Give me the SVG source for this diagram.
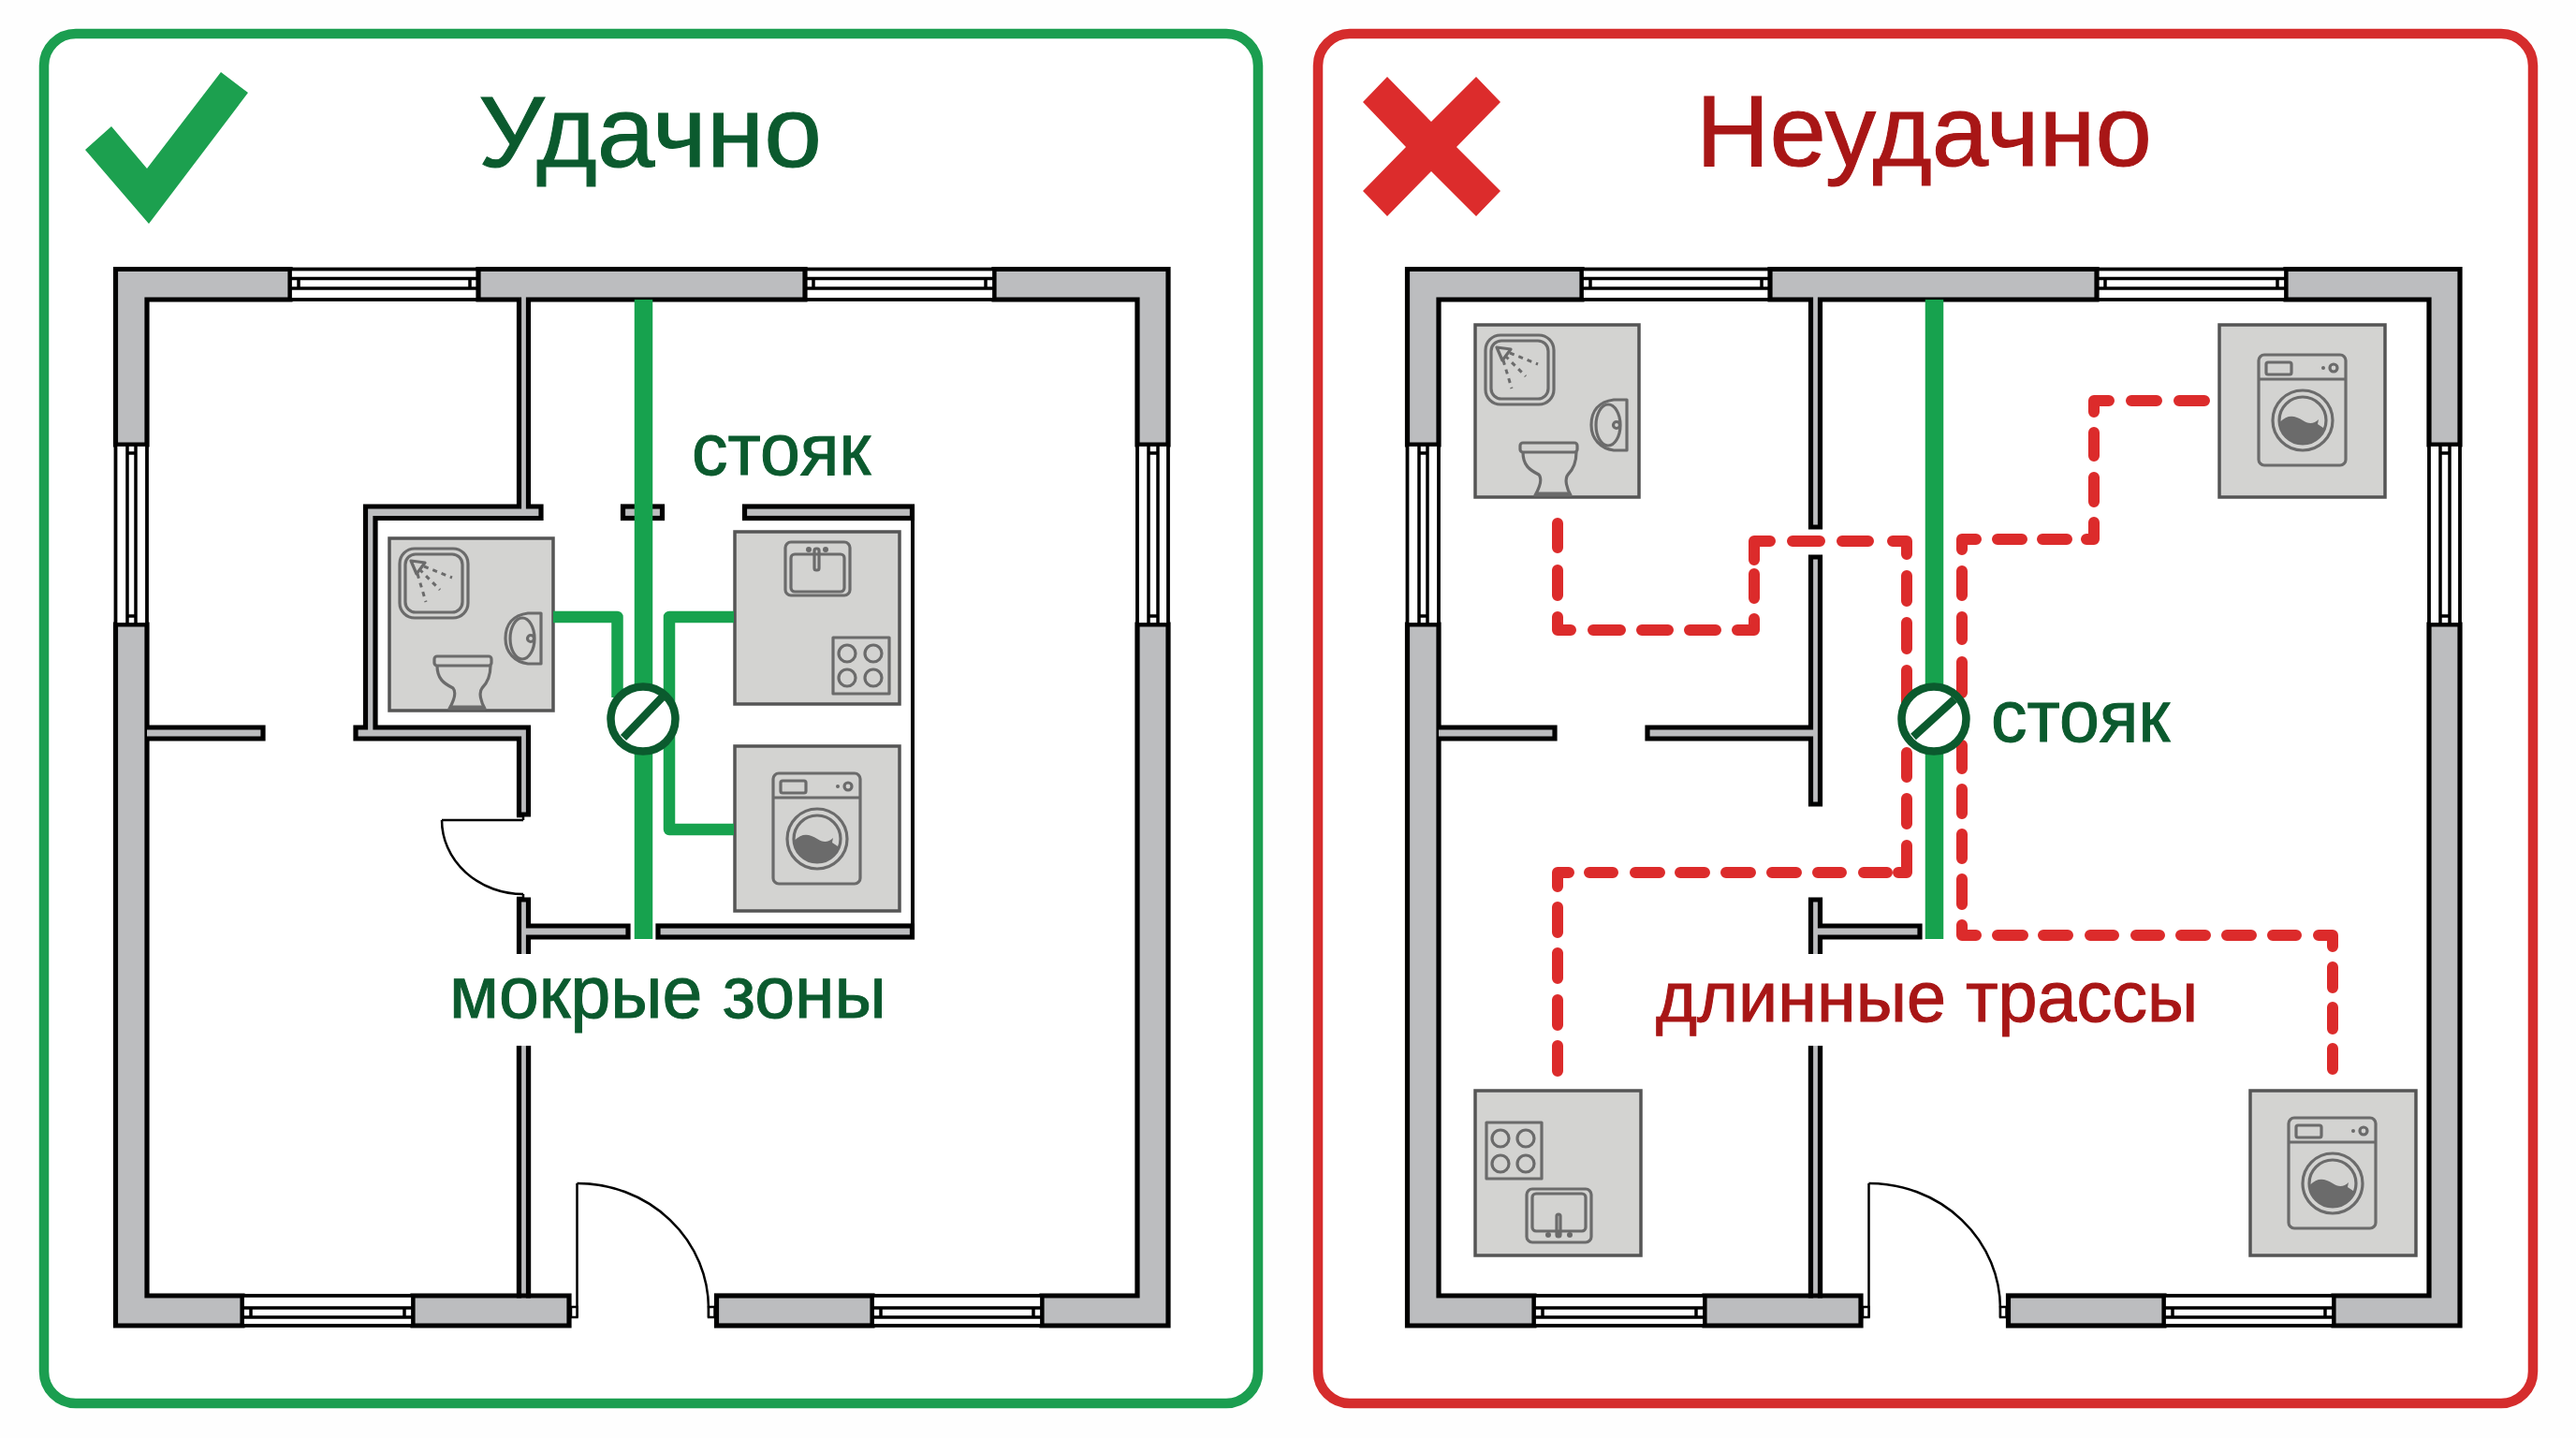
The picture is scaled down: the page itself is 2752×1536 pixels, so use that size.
<svg xmlns="http://www.w3.org/2000/svg" xmlns:xlink="http://www.w3.org/1999/xlink" width="2752" height="1536" viewBox="0 0 2752 1536">
<style>
text{font-family:"Liberation Sans",Arial,sans-serif;stroke-width:1;paint-order:stroke}
.wall{fill:#bcbdbf;stroke:#000;stroke-width:5.2;stroke-linejoin:miter}
.win{fill:#fff;stroke:#000;stroke-width:3.8}
.winl{fill:none;stroke:#000;stroke-width:3.5}
.door{fill:none;stroke:#000;stroke-width:2.5}
.jamb{fill:#fff;stroke:#000;stroke-width:2.5}
.block{fill:#d3d3d1;stroke:#555;stroke-width:3.5}
.ico{fill:none;stroke:#6b6b6b;stroke-width:3.2;stroke-linejoin:round}
.dot{fill:none;stroke:#6b6b6b;stroke-width:3;stroke-dasharray:5 5}
.icf{fill:#6b6b6b}
.pipe{fill:none;stroke:#17a24e;stroke-linejoin:round}
.red{fill:none;stroke:#dc2b2b;stroke-width:12;stroke-linecap:round;stroke-linejoin:round}
.riser{fill:#fff;stroke:#0b5a2e;stroke-width:8.5}
.rs{stroke:#0b5a2e;stroke-width:8.5}
.g{fill:#0b5a2e;stroke:#0b5a2e}
.r{fill:#a81616;stroke:#a81616}
</style>
<defs>
<g id="bath">
<rect class="block" x="0" y="0" width="175" height="184"/>
<rect class="ico" x="11" y="11" width="73" height="74" rx="16"/>
<rect class="ico" x="17" y="17" width="61" height="62" rx="11"/>
<path class="ico" d="M23,24 L38,26 L29,38 Z" stroke-width="4"/>
<path class="dot" d="M37,30 L67,42 M32,33 L54,55 M30,38 L39,68"/>
<path class="ico" d="M162,80 H148 C132,82 124,92 124,107 C124,122 134,132 148,134 H162 Z"/>
<ellipse class="ico" cx="142" cy="107" rx="13" ry="22"/>
<circle class="ico" cx="151" cy="107" r="3.5"/>
<rect class="ico" x="48" y="126" width="61" height="10" rx="3"/>
<path class="ico" d="M51,136 C51,150 58,155 68,160 C72,165 68,175 64,182 H102 C98,175 95,165 99,160 C104,155 108,148 108,136"/>
<path class="ico" d="M65,180 H101" stroke-width="4"/>
</g>
<g id="washer">
<rect class="ico" x="-47" y="-70" width="93" height="118" rx="6"/>
<path class="ico" d="M-47,-44 H46"/>
<rect class="ico" x="-39" y="-62" width="27" height="13" rx="2"/>
<circle class="icf" cx="22" cy="-56" r="2"/>
<circle class="ico" cx="33" cy="-56" r="4"/>
<circle class="ico" cx="0" cy="0" r="32"/>
<circle class="ico" cx="0" cy="0" r="25"/>
<path class="icf" d="M-24.500,2 C-16,-7 -8,-5 0,0 C6,4 12,4 17,-1 L16,4 L23.500,9 A25,25 0 0 1 -24.500,2 Z"/>
</g>
<g id="shell">
<path class="wall" d="M310,287.500 H123.500 V475 H157 V320 H310 Z"/>
<path class="wall" d="M1062,287.500 H1248 V475 H1215 V320 H1062 Z"/>
<path class="wall" d="M123.500,667 V1416 H259 V1384 H157 V667 Z"/>
<path class="wall" d="M1113,1384 H1215 V667 H1248 V1416 H1113 Z"/>
<path class="wall" d="M564.500,1117 V1384 H608 V1416 H441 V1384 H554.500 V1117"/>
<rect class="wall" x="765.500" y="1384" width="166.500" height="32"/>
<g id="windows">
<rect class="win" x="310" y="287.500" width="201" height="32.500"/>
<path class="winl" d="M310,297.500 H511 M310,308 H511 M319,297.500 V308 M502,297.500 V308"/>
<rect class="win" x="860" y="287.500" width="202" height="32.500"/>
<path class="winl" d="M860,297.500 H1062 M860,308 H1062 M869,297.500 V308 M1053,297.500 V308"/>
<rect class="win" x="259" y="1384" width="182" height="32"/>
<path class="winl" d="M259,1397 H441 M259,1407 H441 M268,1397 V1407 M432,1397 V1407"/>
<rect class="win" x="932" y="1384" width="181" height="32"/>
<path class="winl" d="M932,1397 H1113 M932,1407 H1113 M941,1397 V1407 M1104,1397 V1407"/>
<rect class="win" x="123.500" y="475" width="33.500" height="192"/>
<path class="winl" d="M136,475 V667 M145,475 V667 M136,484 H145 M136,658 H145"/>
<rect class="win" x="1215" y="475" width="33" height="192"/>
<path class="winl" d="M1227,475 V667 M1237,475 V667 M1227,484 H1237 M1227,658 H1237"/>
</g>
<path class="wall" d="M157,777 H281 V789 H157"/>
<path class="door" d="M616.500,1407 V1264" stroke-width="2"/>
<path class="door" d="M616.500,1264 A140,134 0 0 1 757,1398 V1407" stroke-width="3.500"/>
<rect class="jamb" x="610" y="1396" width="6.500" height="11"/>
<rect class="jamb" x="757" y="1396" width="6.500" height="11"/>
<path class="wall" d="M554.500,1019 V961 H564.500 V989 H671 V1001 H564.500 V1019"/>
</g>
</defs>

<rect width="2752" height="1536" fill="#fefefe"/>

<g id="panel-good">
<rect x="47" y="36" width="1297" height="1463" rx="34" fill="#fff" stroke="#1b9e50" stroke-width="10.500"/>
<polygon id="check" fill="#1ca04f" points="236,77 265,99 159,239 91,160 119,135 157,180"/>
<text id="title-good" class="g" x="511" y="178" font-size="108" textLength="367" lengthAdjust="spacingAndGlyphs">Удачно</text>
</g>

<g id="panel-bad">
<rect x="1408" y="36" width="1298" height="1463" rx="34" fill="#fff" stroke="#d52c2c" stroke-width="10.500"/>
<polygon id="cross" fill="#dc2c2c" points="1482,82 1529,130 1577,82 1603,109 1556,157 1603,204 1577,231 1529,183 1482,231 1456,204 1502,157 1456,109"/>
<text id="title-bad" class="r" x="1812" y="177" font-size="108" textLength="487" lengthAdjust="spacingAndGlyphs">Неудачно</text>
</g>

<g id="house-good">
<use href="#shell"/>
<path class="wall" d="M511,287.500 H860 V320 H564.500 V541 H578 V553.500 H401 V777 H564.500 V870 H554.500 V789 H380 V777 H390.500 V541 H554.500 V320 H511 Z"/>
<rect class="wall" x="665.500" y="541" width="42" height="12.500"/>
<rect class="wall" x="795.500" y="541" width="179" height="12.500"/>
<rect class="wall" x="703" y="989" width="271.500" height="12"/>
<path d="M975,539 V1003" stroke="#000" stroke-width="4" fill="none"/>
<path class="door" d="M559,876 H472"/>
<path class="door" d="M472,876 A87,79 0 0 0 559,955" stroke-width="3"/>
<path class="door" d="M552,872 H559 V876 M552,959 H559 V955"/>
<path class="wall" d="M564.500,1117 V1384 H554.500 V1117"/>
</g>

<g id="fixture-bath-good" transform="translate(416,575)"><use href="#bath"/></g>
<g id="fixture-kitchen-good" transform="translate(785,568)">
<rect class="block" x="0" y="0" width="176" height="184"/>
<rect class="ico" x="54" y="11" width="69" height="57" rx="6"/>
<rect class="ico" x="60" y="24" width="57" height="40" rx="4"/>
<rect class="ico" x="85" y="18" width="5" height="23" rx="2"/>
<circle class="icf" cx="79" cy="19" r="3"/>
<circle class="icf" cx="97" cy="19" r="3"/>
<rect class="ico" x="105" y="113" width="60" height="60"/>
<circle class="ico" cx="120" cy="130" r="9"/>
<circle class="ico" cx="148" cy="130" r="9"/>
<circle class="ico" cx="120" cy="156" r="9"/>
<circle class="ico" cx="148" cy="156" r="9"/>
</g>
<g id="fixture-washer-good">
<rect class="block" x="785" y="797" width="176" height="176"/>
<use href="#washer" transform="translate(873,896)"/>
</g>

<g id="house-bad">
<use href="#shell" transform="translate(1380,0)"/>
<path class="wall" d="M1891,287.500 H2240 V320 H1944.500 V563 H1934.500 V320 H1891 Z"/>
<path class="wall" d="M1934.500,595 H1944.500 V859 H1934.500 V789 H1760 V777 H1934.500 Z"/>
<path class="wall" d="M1944.500,1117 V1384 H1934.500 V1117"/>
</g>

<g id="fixture-bath-bad" transform="translate(1576,347)"><use href="#bath"/></g>
<g id="fixture-washer-bad-top">
<rect class="block" x="2371" y="347" width="177" height="184"/>
<use href="#washer" transform="translate(2460,449)"/>
</g>
<g id="fixture-kitchen-bad" transform="translate(1576,1165)">
<rect class="block" x="0" y="0" width="177" height="176"/>
<rect class="ico" x="12" y="34" width="59" height="60"/>
<circle class="ico" cx="27" cy="51" r="9"/>
<circle class="ico" cx="54" cy="51" r="9"/>
<circle class="ico" cx="27" cy="78" r="9"/>
<circle class="ico" cx="54" cy="78" r="9"/>
<rect class="ico" x="55" y="105" width="69" height="57" rx="6"/>
<rect class="ico" x="61" y="110" width="57" height="40" rx="4"/>
<rect class="ico" x="87" y="132" width="4" height="24" rx="2"/>
<circle class="icf" cx="78" cy="154" r="3"/>
<circle class="icf" cx="89" cy="154" r="3"/>
<circle class="icf" cx="101" cy="154" r="3"/>
</g>
<g id="fixture-washer-bad-bottom">
<rect class="block" x="2404" y="1165" width="177" height="176"/>
<use href="#washer" transform="translate(2492,1264)"/>
</g>

<g id="connectors">
<path class="pipe" stroke-width="19.500" d="M687.500,320 V1003"/>
<path class="pipe" stroke-width="12.500" d="M591,659 H659.500 V745"/>
<path class="pipe" stroke-width="12.500" d="M784,659 H715 V886 H784"/>
<path class="pipe" stroke-width="19.500" d="M2066.500,320 V1003"/>
<path id="route-a" class="red" d="M1664,559 V585 M1664,609 V636 M1664,659 V673 H1678 M1702,673 H1731 M1754,673 H1782 M1805,673 H1833 M1856,673 H1874 V661 M1874,613 V639 M1874,598 V578 H1891 M1915,578 H1944 M1968,578 H1996 M2022,578 H2037 V592 M2037,615 V642 M2037,665 V693 M2037,716 V750 M2037,804 V830 M2037,853 V880 M2037,903 V932 H2028 M1991,932 H2016 M1942,932 H1967 M1893,932 H1919 M1844,932 H1870 M1795,932 H1821 M1747,932 H1773 M1698,932 H1723 M1676,932 H1664 V947 M1664,969 V996 M1664,1018 V1045 M1664,1068 V1095 M1664,1117 V1144"/>
<path id="route-b" class="red" d="M2355,428 H2328 M2304,428 H2277 M2253,428 H2237 V440 M2237,462 V487 M2237,510 V536 M2237,558 V576 H2229 M2208,576 H2182 M2160,576 H2134 M2111,576 H2096 V587 M2096,610 V636 M2096,659 V683 M2096,707 V740 M2096,796 V821 M2096,843 V869 M2096,891 V917 M2096,939 V966 M2096,988 V999 H2111 M2134,999 H2161 M2183,999 H2209 M2233,999 H2258 M2282,999 H2307 M2330,999 H2356 M2379,999 H2405 M2428,999 H2453 M2477,999 H2492 V1011 M2492,1033 V1055 M2492,1076 V1099 M2492,1120 V1142"/>
</g>

<g id="riser-good">
<circle class="riser" cx="687" cy="768" r="34.500"/>
<line class="rs" x1="666" y1="788" x2="711" y2="741"/>
</g>
<g id="riser-bad">
<circle class="riser" cx="2066" cy="768" r="34.500"/>
<line class="rs" x1="2044" y1="787" x2="2088" y2="747"/>
</g>

<g id="labels">
<text class="g" x="739" y="507" font-size="77">стояк</text>
<text class="g" x="480" y="1087" font-size="77">мокрые зоны</text>
<text class="g" x="2127" y="792" font-size="77">стояк</text>
<text class="r" x="1769" y="1091" font-size="75.500">длинные трассы</text>
</g>
</svg>
